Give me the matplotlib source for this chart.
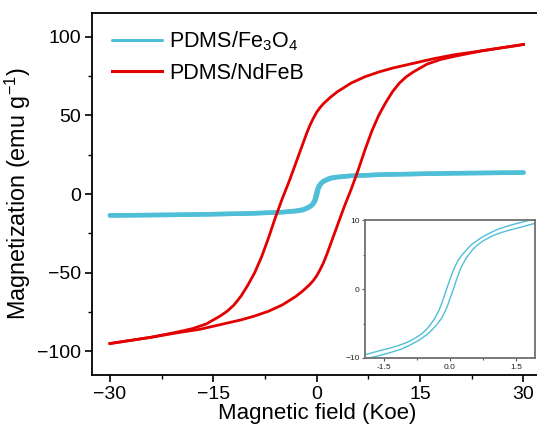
import numpy as np
import matplotlib
matplotlib.use("Agg")
import matplotlib.pyplot as plt
from matplotlib.ticker import MultipleLocator, FormatStrFormatter

plt.rcParams['font.family'] = ['Liberation Sans', 'DejaVu Sans']
plt.rcParams['mathtext.fontset'] = 'custom'
plt.rcParams['mathtext.rm'] = 'Liberation Sans'
plt.rcParams['mathtext.it'] = 'Liberation Sans:italic'
plt.rcParams['mathtext.default'] = 'regular'
plt.rcParams['axes.unicode_minus'] = True

# NdFeB loop : branche descendante (+30 -> -30) et montante (-30 -> +30)
H_ndfeb_down = [30, 24, 20, 17, 14, 11, 9, 7, 5, 3, 2, 1, 0.5, 0, -0.5, -1, -1.5, -2, -3, -4,
                -5, -6, -7, -8, -9, -10, -11, -12, -13, -14, -16, -18, -20, -24, -30]
M_ndfeb_down = [95, 91, 88.5, 86, 83, 80, 77.5, 74.5, 70.5, 65, 61.5, 57.5, 55, 52, 48, 43.5,
                38, 32, 20, 8, -3, -15, -28, -40, -50, -58, -65, -70.5, -74.5, -77.5, -82.5,
                -85.5, -87.5, -91, -95]
H_ndfeb_up = [-30, -24, -20, -17, -14, -11, -9, -7, -5, -3, -2, -1, -0.5, 0, 0.5, 1, 1.5, 2,
              3, 4, 5, 6, 7, 8, 9, 10, 11, 12, 13, 14, 16, 18, 20, 24, 30]
M_ndfeb_up = [-95, -91, -88, -86, -83, -80, -77.5, -74.5, -70.5, -65, -61.5, -57.5, -55, -52,
              -48, -43.5, -38, -32, -20, -8, 3, 15, 28, 40, 50, 58, 65, 70.5, 74.5, 77.5,
              82.5, 85.5, 87.5, 91, 95]

# Fe3O4 : courbe complète
H_fe_down = [30, 20, 10, 5, 3, 2, 1.5, 1, 0.6, 0.3, 0.1, 0, -0.1, -0.3, -0.6, -1, -1.5,
             -2, -3, -5, -10, -20, -30]
M_fe_down = [13.6, 13.2, 12.4, 11.6, 10.9, 10.3, 9.4, 8.3, 6.9, 5.2, 3.1, 1.5, -0.4, -3.7,
             -6.3, -7.8, -8.9, -9.8, -10.6, -11.5, -12.4, -13.2, -13.6]
H_fe_up = [-30, -20, -10, -5, -3, -2, -1.5, -1, -0.6, -0.3, -0.1, 0, 0.1, 0.3, 0.6, 1, 1.5,
           2, 3, 5, 10, 20, 30]
M_fe_up = [-13.6, -13.2, -12.4, -11.6, -10.9, -10.3, -9.4, -8.3, -6.9, -5.2, -3.1, -1.5, 0.4,
           3.7, 6.3, 7.8, 8.9, 9.8, 10.6, 11.5, 12.4, 13.2, 13.6]

# Fe3O4 : zoom autour de l'origine (encart)
H_in_down = [1.95, 1.8, 1.7, 1.55, 1.4, 1.25, 1.1, 1.0, 0.9, 0.8, 0.7, 0.6, 0.5, 0.42, 0.35,
             0.28, 0.2, 0.14, 0.1, 0.05, 0.0, -0.05, -0.1, -0.15, -0.2, -0.25, -0.3, -0.37,
             -0.45, -0.52, -0.6, -0.7, -0.8, -0.9, -1.0, -1.15, -1.3, -1.45, -1.6, -1.8, -1.95]
M_in_down = [10.1, 9.95, 9.8, 9.55, 9.3, 9.0, 8.7, 8.4, 8.1, 7.75, 7.4, 6.95, 6.5, 6.0, 5.5,
             5.0, 4.3, 3.6, 3.1, 2.3, 1.4, 0.5, -0.4, -1.4, -2.3, -3.1, -3.7, -4.5,
             -5.2, -5.75, -6.25, -6.75, -7.15, -7.5, -7.8, -8.15, -8.45, -8.7, -8.95, -9.3, -9.55]
H_in_up = [-1.95, -1.8, -1.7, -1.55, -1.4, -1.25, -1.1, -1.0, -0.9, -0.8, -0.7, -0.6, -0.5,
           -0.42, -0.35, -0.28, -0.2, -0.14, -0.1, -0.05, 0.0, 0.05, 0.1, 0.15, 0.2, 0.25,
           0.3, 0.37, 0.45, 0.52, 0.6, 0.7, 0.8, 0.9, 1.0, 1.15, 1.3, 1.45, 1.6, 1.8, 1.95]
M_in_up = [-10.1, -9.95, -9.8, -9.55, -9.3, -9.0, -8.7, -8.4, -8.1, -7.75, -7.4, -6.95, -6.5,
           -6.0, -5.5, -5.0, -4.3, -3.6, -3.1, -2.3, -1.4, -0.5, 0.4, 1.4, 2.3, 3.1,
           3.7, 4.5, 5.2, 5.75, 6.25, 6.75, 7.15, 7.5, 7.8, 8.15, 8.45, 8.7, 8.95, 9.3, 9.55]

c_fe = '#4fbfd8'
c_nd = '#e30000'

fig = plt.figure(figsize=(5.37, 4.32), dpi=100)
ax = fig.add_axes([0.1713, 0.1319, 0.8369, 0.838])

ax.plot(H_fe_down, M_fe_down, color=c_fe, lw=3.2, solid_capstyle='round', label='PDMS/Fe$_3$O$_4$')
ax.plot(H_fe_up, M_fe_up, color=c_fe, lw=3.2, solid_capstyle='round')
ax.plot(H_ndfeb_down, M_ndfeb_down, color=c_nd, lw=2.0, label='PDMS/NdFeB')
ax.plot(H_ndfeb_up, M_ndfeb_up, color=c_nd, lw=2.0)

ax.set_xlim(-32.6, 32.6)
ax.set_ylim(-115, 115)
ax.xaxis.set_major_locator(MultipleLocator(15))
ax.xaxis.set_minor_locator(MultipleLocator(7.5))
ax.yaxis.set_major_locator(MultipleLocator(50))
ax.yaxis.set_minor_locator(MultipleLocator(25))
ax.tick_params(which='major', direction='out', length=5, width=1.2, labelsize=14, pad=3)
ax.tick_params(which='minor', direction='out', length=3, width=1.0)
for s in ax.spines.values():
    s.set_linewidth(1.3)

ax.set_xlabel('Magnetic field (Koe)', fontsize=16, labelpad=0)
ax.set_ylabel('Magnetization (emu g$^{-1}$)', fontsize=16.8, labelpad=3)

leg = ax.legend(loc='upper left', frameon=False, fontsize=15.5, handlelength=2.3,
                handletextpad=0.33, labelspacing=0.42, borderaxespad=0.3,
                bbox_to_anchor=(0.012, 0.995))
for ln in leg.get_lines():
    ln.set_linewidth(2.2)

# Encart
axi = fig.add_axes([0.6797, 0.1713, 0.3166, 0.3194])
axi.plot(H_in_down, M_in_down, color=c_fe, lw=1.0)
axi.plot(H_in_up, M_in_up, color=c_fe, lw=1.0)
axi.set_xlim(-1.93, 1.93)
axi.set_ylim(-10, 10)
axi.xaxis.set_major_locator(MultipleLocator(1.5))
axi.xaxis.set_minor_locator(MultipleLocator(0.75))
axi.xaxis.set_major_formatter(FormatStrFormatter('%.1f'))
axi.yaxis.set_major_locator(MultipleLocator(10))
axi.yaxis.set_minor_locator(MultipleLocator(5))
axi.tick_params(which='both', direction='out', labelsize=6, colors='#555555',
                labelcolor='#222222', length=2.5, width=0.8, pad=1.5)
axi.tick_params(which='minor', length=1.5)
for s in axi.spines.values():
    s.set_linewidth(1.3)
    s.set_color('#707070')

fig.savefig('out.png', dpi=100)
